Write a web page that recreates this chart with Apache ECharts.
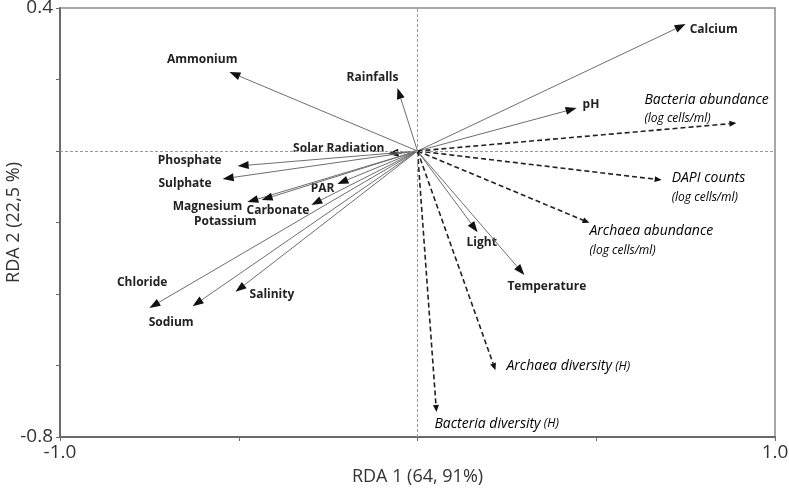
<!DOCTYPE html>
<html>
<head>
<meta charset="utf-8">
<script src="https://cdn.jsdelivr.net/npm/echarts@6/dist/echarts.min.js"></script>
<style>
	html, body { margin: 0; padding: 0; background: #fff; }
	#chart1 { width: 789px; height: 489px; }
</style>
</head>
<body>
<div id="chart1"></div>
<script>
// explanatory variables (solid arrows)
var envNames = ['Calcium', 'pH', 'Light', 'Temperature', 'Rainfalls', 'Ammonium', 'Solar Radiation',
	'Phosphate', 'Sulphate', 'PAR', 'Magnesium', 'Potassium', 'Carbonate', 'Chloride', 'Sodium', 'Salinity'];
var envX = [0.750, 0.445, 0.168, 0.299, -0.056, -0.526, -0.084, -0.503, -0.545, -0.224, -0.476, -0.436, -0.297, -0.750, -0.629, -0.509];
var envY = [0.355, 0.120, -0.227, -0.347, 0.176, 0.221, -0.008, -0.042, -0.078, -0.092, -0.143, -0.137, -0.151, -0.439, -0.434, -0.394];

// response variables (dashed arrows)
var respNames = ['Bacteria abundance', 'DAPI counts', 'Archaea abundance', 'Archaea diversity', 'Bacteria diversity'];
var respUnits = ['(log cells/ml)', '(log cells/ml)', '(log cells/ml)', '(H)', '(H)'];
var respX = [0.892, 0.683, 0.481, 0.218, 0.053];
var respY = [0.078, -0.081, -0.201, -0.613, -0.730];

// axis tick labels
var xTickLabels = ['-1.0', '1.0'];
var yTickLabels = ['0.4', '-0.8'];

// label placement (pixel offset from arrow tip, align)
var envLabelPos = [
	[4, 5, 'left'], [6, -4, 'left'], [-11, 10, 'left'], [-17, 12, 'left'],
	[1, -11, 'right'], [8, -12, 'right'], [-3, -5, 'right'], [-16, -5, 'right'],
	[-11, 5, 'right'], [-3, 5, 'right'], [-5, 4, 'right'], [-5, 22, 'right'],
	[-2, 6, 'right'], [18, -25, 'right'], [1, 16, 'right'], [14, 3, 'left']
];
// [dx, dy, unit on new line?]
var respLabelPos = [
	[-92, -14, true], [10, 8, true], [0, 18, true], [11, -4, false], [-2, 12, false]
];

function arrowItem(api, L, W) {
	var o = api.coord([0, 0]);
	var p = api.coord([api.value(0), api.value(1)]);
	var a = Math.atan2(p[1] - o[1], p[0] - o[0]);
	var c = Math.cos(a), s = Math.sin(a);
	var b = [p[0] - L * c, p[1] - L * s];
	return {
		o: o, p: p, b: b,
		pts: [p, [b[0] - W / 2 * s, b[1] + W / 2 * c], [b[0] + W / 2 * s, b[1] - W / 2 * c]]
	};
}

function fmtTick(list) {
	return function(v) {
		var t = v.toFixed(1);
		if(t == '-0.0') t = '0.0';
		return list.indexOf(t) >= 0 ? t : '';
	};
}

function chart1() {
	var myChart = echarts.init(document.getElementById('chart1'));
	var envData = envX.map(function(x, i) { return [x, envY[i]]; });
	var respData = respX.map(function(x, i) { return [x, respY[i]]; });

	var option = {
		animation: false,
		grid: {
			left: 60,
			right: 14,
			top: 8,
			bottom: 52,
			outerBoundsMode: 'none',
			containLabel: false,
			show: true,
			borderColor: '#8a8a8a',
			borderWidth: 1.5
		},
		xAxis: {
			type: 'value',
			min: -1,
			max: 1,
			interval: 0.5,
			name: 'RDA 1 (64, 91%)',
			nameLocation: 'middle',
			nameGap: 31,
			nameMoveOverlap: false,
			nameTextStyle: { fontSize: 18, color: '#333', fontFamily: 'Open Sans' },
			axisLine: { onZero: false, lineStyle: { color: '#6a6a6a', width: 2 } },
			axisTick: { length: 4, lineStyle: { color: '#6a6a6a' } },
			splitLine: { show: false },
			axisLabel: {
				formatter: fmtTick(xTickLabels),
				fontSize: 19,
				color: '#333',
				fontFamily: 'Open Sans',
				margin: 6
			}
		},
		yAxis: {
			type: 'value',
			min: -0.8,
			max: 0.4,
			interval: 0.2,
			name: 'RDA 2 (22,5 %)',
			nameLocation: 'middle',
			nameGap: 37,
			nameMoveOverlap: false,
			nameTextStyle: { fontSize: 18, color: '#333', fontFamily: 'Open Sans' },
			axisLine: { show: true, onZero: false, lineStyle: { color: '#6a6a6a', width: 2 } },
			axisTick: { show: true, length: 4, lineStyle: { color: '#6a6a6a' } },
			splitLine: { show: false },
			axisLabel: {
				formatter: fmtTick(yTickLabels),
				fontSize: 19,
				color: '#333',
				fontFamily: 'Open Sans',
				margin: 7
			}
		},
		series: [{
			type: 'line',
			data: [],
			silent: true,
			markLine: {
				silent: true,
				symbol: 'none',
				label: { show: false },
				lineStyle: { type: [3, 2], color: '#9a9a9a', width: 1 },
				data: [{ xAxis: 0 }, { yAxis: 0 }]
			}
		}, {
			type: 'custom',
			name: 'env',
			data: envData,
			z: 3,
			renderItem: function(params, api) {
				var i = params.dataIndex;
				var g = arrowItem(api, 11, 8);
				var lp = envLabelPos[i];
				return {
					type: 'group',
					children: [{
						type: 'line',
						shape: { x1: g.o[0], y1: g.o[1], x2: g.b[0], y2: g.b[1] },
						style: { stroke: '#6e6e6e', lineWidth: 1 }
					}, {
						type: 'polygon',
						shape: { points: g.pts },
						style: { fill: '#111' }
					}, {
						type: 'text',
						x: g.p[0] + lp[0],
						y: g.p[1] + lp[1],
						style: {
							text: envNames[i],
							align: lp[2],
							verticalAlign: 'middle',
							fill: '#222',
							font: 'bold 12px "Open Sans"'
						}
					}]
				};
			}
		}, {
			type: 'custom',
			name: 'resp',
			data: respData,
			z: 4,
			renderItem: function(params, api) {
				var i = params.dataIndex;
				var g = arrowItem(api, 7, 6);
				var lp = respLabelPos[i];
				var txt = '{a|' + respNames[i] + '}' + (lp[2] ? '\n' : ' ') + '{b|' + respUnits[i] + '}';
				return {
					type: 'group',
					children: [{
						type: 'line',
						shape: { x1: g.o[0], y1: g.o[1], x2: g.b[0], y2: g.b[1] },
						style: { stroke: '#222', lineWidth: 1.6, lineDash: [5, 3] }
					}, {
						type: 'polygon',
						shape: { points: g.pts },
						style: { fill: '#111' }
					}, {
						type: 'text',
						x: g.p[0] + lp[0],
						y: g.p[1] + lp[1],
						style: {
							text: txt,
							align: 'left',
							verticalAlign: 'middle',
							rich: {
								a: { fontFamily: 'Open Sans', fontStyle: 'italic', fontSize: 14, color: '#333', lineHeight: 19 },
								b: { fontFamily: 'Open Sans', fontStyle: 'italic', fontSize: 12, color: '#444', lineHeight: 19 }
							}
						}
					}]
				};
			}
		}]
	};

	myChart.setOption(option);
}

chart1();
</script>
</body>
</html>
